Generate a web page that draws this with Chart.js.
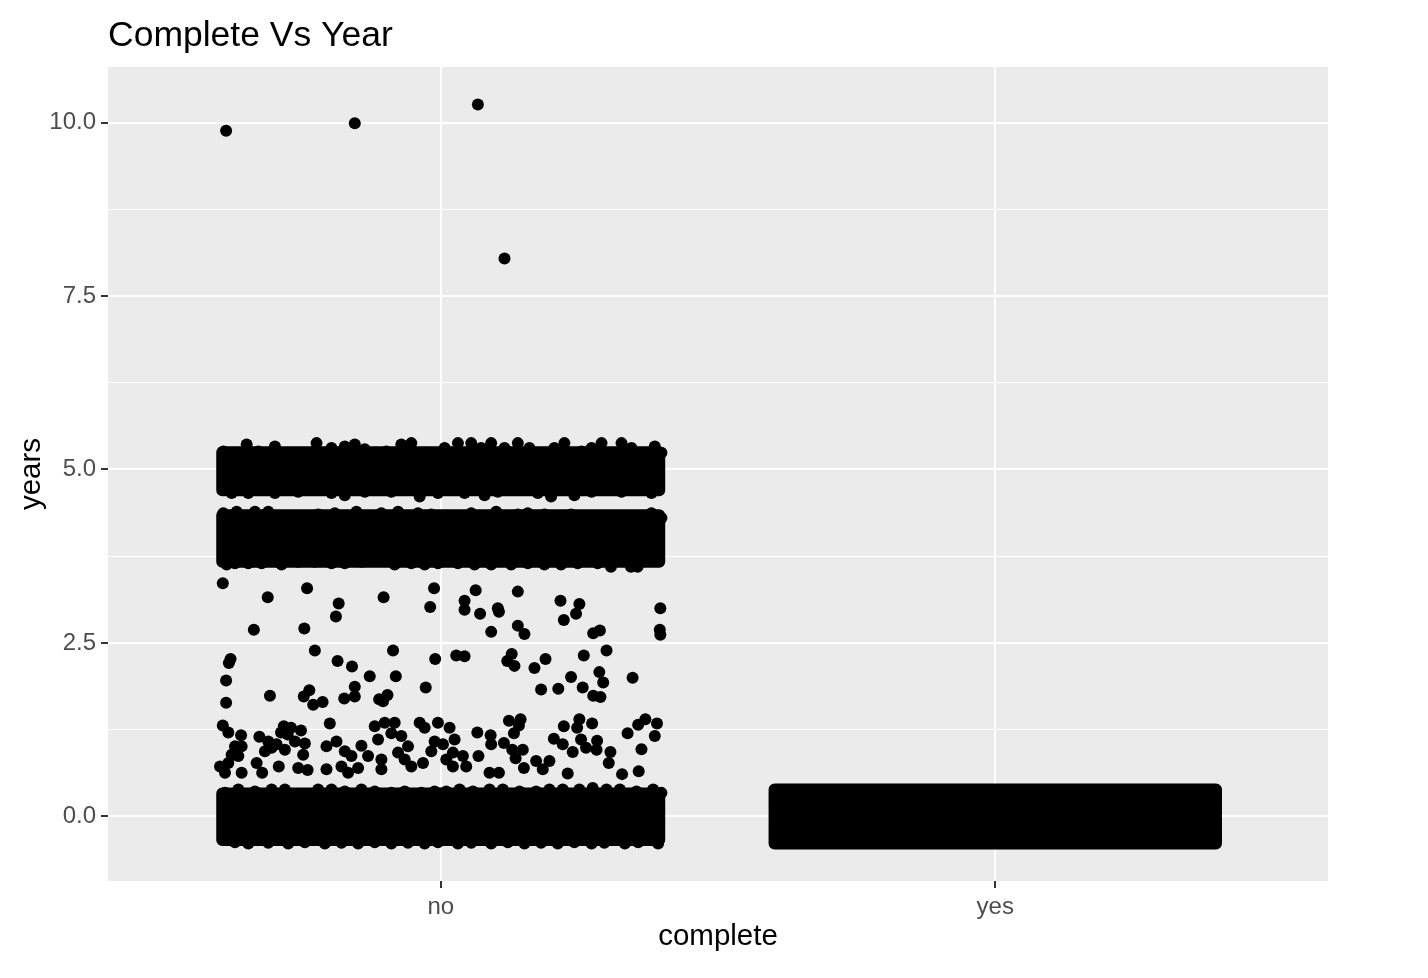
<!DOCTYPE html>
<html>
<head>
<meta charset="utf-8">
<script src="https://cdn.jsdelivr.net/npm/chart.js@4/dist/chart.umd.min.js"></script>
<style>
  html,body{margin:0;padding:0;background:#ffffff;}
  #wrap{width:1428px;height:978px;}
</style>
</head>
<body>
<div id="wrap"><canvas id="c" width="1428" height="978"></canvas></div>
<script>
// ---- data (x = category position with jitter: no = 1, yes = 2; y = years) ----
const categories = ['no', 'yes'];
const yTicks = [0, 1.25, 2.5, 3.75, 5, 6.25, 7.5, 8.75, 10];
const chartTitle = 'Complete Vs Year';

// isolated high values (complete = no)
const noOutliers = [[0.613, 9.88], [0.845, 9.99], [1.067, 10.26], [1.115, 8.04]];

// sparse points between 1.5 and 3.4 years (complete = no)
const noSparse = [
  [0.607,3.36],[0.688,3.16],[0.759,3.29],[0.816,3.07],[0.811,2.88],[0.897,3.16],[0.988,3.29],[0.981,3.02],
  [0.663,2.69],[0.754,2.71],[0.773,2.39],[0.914,2.39],[0.621,2.27],[0.618,2.21],[0.990,2.27],[0.814,2.24],
  [0.840,2.16],[0.613,1.96],[0.872,2.02],[0.919,2.02],[0.973,1.86],[0.692,1.74],[0.763,1.82],[0.753,1.73],
  [0.770,1.61],[0.787,1.65],[0.845,1.87],[0.845,1.73],[0.826,1.70],[0.613,1.64],[0.904,1.75],[0.889,1.69],
  [0.896,1.66],[0.800,1.34],
  [1.063,3.26],[1.043,3.11],[1.043,2.98],[1.071,2.92],[1.103,3.00],[1.105,2.95],[1.139,3.24],[1.216,3.11],
  [1.250,3.06],[1.244,2.92],[1.222,2.83],[1.396,3.00],[1.091,2.66],[1.139,2.75],[1.151,2.63],[1.275,2.64],
  [1.287,2.68],[1.395,2.69],[1.396,2.62],[1.028,2.32],[1.043,2.31],[1.128,2.34],[1.120,2.24],[1.133,2.17],
  [1.189,2.27],[1.169,2.14],[1.299,2.39],[1.258,2.32],[1.235,2.01],[1.286,2.08],[1.293,1.93],[1.346,2.00],
  [1.181,1.83],[1.212,1.84],[1.256,1.86],[1.275,1.74],[1.288,1.72]
];

// cluster around one year (complete = no)
const noNearOne = [
  [0.607,1.31],[0.617,1.21],[0.640,1.17],[0.673,1.15],[0.717,1.30],[0.730,1.28],[0.712,1.21],[0.724,1.18],
  [0.748,1.24],[0.689,1.08],[0.704,1.04],[0.683,0.94],[0.695,0.99],[0.719,0.96],[0.737,1.08],[0.755,1.05],
  [0.629,1.01],[0.641,1.01],[0.623,0.89],[0.635,0.87],[0.617,0.77],[0.602,0.72],[0.641,0.63],[0.611,0.63],
  [0.752,0.89],[0.743,0.70],[0.760,0.67],[0.708,0.72],[0.678,0.63],[0.668,0.77],[0.794,1.01],[0.812,1.08],
  [0.827,0.94],[0.839,0.87],[0.821,0.72],[0.794,0.68],[0.833,0.63],[0.851,0.70],[0.869,0.87],[0.857,1.02],
  [0.881,1.30],[0.899,1.35],[0.917,1.35],[0.887,1.11],[0.911,1.20],[0.929,1.16],[0.941,1.01],[0.923,0.92],
  [0.935,0.82],[0.947,0.72],[0.893,0.82],[0.893,0.68],[0.968,0.77],[0.983,0.94],[0.989,1.08],[0.962,1.35],
  [0.971,1.28],[0.995,1.35],
  [1.123,1.38],[1.144,1.40],[1.141,1.31],[1.132,1.20],[1.066,1.21],[1.090,1.17],[1.091,1.04],[1.114,1.06],
  [1.129,0.96],[1.148,0.96],[1.135,0.84],[1.150,0.70],[1.222,1.30],[1.250,1.40],[1.246,1.28],[1.273,1.34],
  [1.253,1.11],[1.262,0.99],[1.282,1.09],[1.281,0.96],[1.204,1.12],[1.220,1.04],[1.238,0.93],[1.306,0.93],
  [1.303,0.77],[1.172,0.80],[1.196,0.80],[1.184,0.68],[1.229,0.62],[1.088,0.63],[1.105,0.63],[1.016,1.28],
  [1.025,1.11],[1.004,1.04],[1.022,0.92],[1.040,0.87],[1.010,0.82],[1.046,0.72],[1.022,0.72],[1.068,0.87],
  [1.337,1.20],[1.356,1.32],[1.369,1.40],[1.390,1.34],[1.386,1.16],[1.362,0.97],[1.327,0.61],[1.357,0.65]
];

// points along the ragged edges of the overplotted bands (complete = no)
const noFiveTopEdge = [
  [0.608,5.26],[0.629,5.24],[0.650,5.36],[0.671,5.26],[0.701,5.33],[0.689,5.19],[0.713,5.12],[0.743,5.12],
  [0.776,5.38],[0.767,5.24],[0.803,5.31],[0.827,5.33],[0.845,5.36],[0.863,5.29],[0.881,5.24],[0.902,5.26],
  [0.929,5.36],[0.947,5.38],[0.935,5.29],[0.971,5.24],[1.007,5.31],[1.031,5.38],[1.055,5.38],[1.073,5.31],
  [1.091,5.38],[1.115,5.31],[1.139,5.38],[1.160,5.31],[1.181,5.21],[1.205,5.31],[1.223,5.38],[1.254,5.26],
  [1.272,5.31],[1.290,5.38],[1.326,5.38],[1.344,5.31],[1.362,5.19],[1.386,5.33],[1.398,5.24]
];
const noFiveBottomEdge = [
  [0.623,4.66],[0.653,4.66],[0.701,4.66],[0.743,4.68],[0.803,4.66],[0.827,4.63],[0.863,4.68],[0.911,4.68],
  [0.962,4.61],[0.995,4.66],[1.043,4.66],[1.079,4.63],[1.103,4.68],[1.175,4.66],[1.199,4.61],[1.241,4.63],
  [1.272,4.68],[1.326,4.68],[1.380,4.66]
];
const noFourTopEdge = [
  [0.608,4.37],[0.632,4.39],[0.665,4.39],[0.689,4.39],[0.749,4.30],[0.779,4.35],[0.809,4.37],[0.848,4.39],
  [0.893,4.37],[0.923,4.39],[0.959,4.37],[0.983,4.35],[1.055,4.37],[1.100,4.39],[1.139,4.35],[1.157,4.37],
  [1.187,4.35],[1.235,4.35],[1.265,4.32],[1.301,4.32],[1.332,4.30],[1.380,4.37],[1.398,4.30]
];
const noFourBottomEdge = [
  [0.614,3.63],[0.629,3.65],[0.653,3.65],[0.677,3.65],[0.713,3.63],[0.743,3.67],[0.773,3.67],[0.803,3.65],
  [0.827,3.65],[0.857,3.67],[0.875,3.70],[0.917,3.63],[0.947,3.65],[0.971,3.63],[0.995,3.65],[1.031,3.65],
  [1.061,3.63],[1.091,3.63],[1.127,3.63],[1.157,3.65],[1.187,3.63],[1.217,3.63],[1.247,3.65],[1.283,3.65],
  [1.307,3.60],[1.343,3.60],[1.355,3.60],[1.391,3.72]
];
const noZeroTopEdge = [
  [0.611,0.34],[0.635,0.39],[0.665,0.36],[0.695,0.39],[0.719,0.39],[0.749,0.32],[0.779,0.39],[0.803,0.39],
  [0.827,0.36],[0.857,0.39],[0.881,0.36],[0.911,0.34],[0.935,0.36],[0.965,0.34],[0.989,0.36],[1.010,0.36],
  [1.034,0.39],[1.058,0.36],[1.088,0.39],[1.112,0.39],[1.142,0.36],[1.172,0.36],[1.196,0.39],[1.220,0.39],
  [1.250,0.39],[1.274,0.41],[1.299,0.39],[1.323,0.39],[1.353,0.36],[1.383,0.39],[1.398,0.34]
];
const noZeroBottomEdge = [
  [0.629,-0.37],[0.653,-0.39],[0.689,-0.38],[0.725,-0.39],[0.755,-0.37],[0.791,-0.39],[0.821,-0.38],
  [0.851,-0.39],[0.881,-0.37],[0.911,-0.39],[0.941,-0.38],[0.971,-0.39],[0.995,-0.37],[1.031,-0.39],
  [1.055,-0.38],[1.091,-0.39],[1.121,-0.37],[1.151,-0.39],[1.181,-0.38],[1.211,-0.39],[1.241,-0.37],
  [1.272,-0.39],[1.295,-0.38],[1.332,-0.39],[1.356,-0.37],[1.392,-0.39]
];

// extents of the fully overplotted band cores: [xFrom, xTo, yFrom, yTo]
const noBandZero = [0.606, 1.394, -0.34, 0.33];
const noBandFour = [0.606, 1.394, 3.67, 4.34];
const noBandFive = [0.606, 1.394, 4.70, 5.25];
const yesBandZero = [1.602, 2.398, -0.39, 0.39];

// ---- helpers ----
const FONT = "'Liberation Sans', Arial, Helvetica, sans-serif";
const toPts = arr => arr.map(p => ({x: p[0], y: p[1]}));
const bandShape = b => [
  {x: b[0], y: b[2]}, {x: b[1], y: b[2]}, {x: b[1], y: b[3]}, {x: b[0], y: b[3]}, {x: b[0], y: b[2]}
];
const POINT_R = 6;

const pointSet = (data) => ({
  type: 'scatter', data: toPts(data), pointRadius: POINT_R, pointHoverRadius: POINT_R,
  backgroundColor: '#000000', borderWidth: 0, pointBorderWidth: 0
});
const bandSet = (b) => ({
  type: 'line', data: bandShape(b), showLine: true, fill: 'shape', tension: 0,
  backgroundColor: '#000000', borderColor: '#000000', borderWidth: POINT_R * 2,
  borderJoinStyle: 'round', borderCapStyle: 'round', pointRadius: 0, pointHoverRadius: 0
});

const panelBg = {
  id: 'panelBg',
  beforeDraw(chart) {
    const {ctx, chartArea: a} = chart;
    ctx.save();
    ctx.fillStyle = '#EBEBEB';
    ctx.fillRect(a.left, a.top, a.right - a.left, a.bottom - a.top);
    ctx.restore();
  }
};
const titlePlugin = {
  id: 'leftTitle',
  afterDraw(chart) {
    const {ctx, chartArea: a} = chart;
    ctx.save();
    ctx.fillStyle = '#000000';
    ctx.font = "35.5px " + FONT;
    ctx.textAlign = 'left';
    ctx.textBaseline = 'alphabetic';
    ctx.fillText(chartTitle, a.left, 46);
    ctx.restore();
  }
};

new Chart(document.getElementById('c'), {
  type: 'scatter',
  data: {
    datasets: [
      pointSet(noOutliers),
      pointSet(noSparse),
      pointSet(noNearOne),
      pointSet(noFiveTopEdge),
      pointSet(noFiveBottomEdge),
      pointSet(noFourTopEdge),
      pointSet(noFourBottomEdge),
      pointSet(noZeroTopEdge),
      pointSet(noZeroBottomEdge),
      bandSet(noBandZero),
      bandSet(noBandFour),
      bandSet(noBandFive),
      bandSet(yesBandZero)
    ]
  },
  options: {
    responsive: false,
    animation: false,
    events: [],
    layout: {padding: {top: 67, right: 100, left: 0, bottom: 0}},
    plugins: {legend: {display: false}, tooltip: {enabled: false}, title: {display: false}},
    scales: {
      x: {
        type: 'linear', min: 0.4, max: 2.6,
        afterBuildTicks: s => { s.ticks = [{value: 1}, {value: 2}]; },
        afterFit: s => { s.height = 97; },
        ticks: {
          callback: v => categories[Math.round(v) - 1],
          font: {family: FONT, size: 24}, color: '#4D4D4D', padding: 5,
          maxRotation: 0, autoSkip: false
        },
        grid: {color: '#FFFFFF', lineWidth: 2, tickLength: 7, tickColor: '#333333', tickWidth: 2},
        border: {display: false},
        title: {display: true, text: 'complete', color: '#000000',
                font: {family: FONT, size: 29.5}, padding: {top: 0, bottom: 23}}
      },
      y: {
        type: 'linear', min: -0.93, max: 10.8,
        afterBuildTicks: s => { s.ticks = yTicks.map(v => ({value: v})); },
        afterFit: s => { s.width = 108; },
        ticks: {
          callback: v => (Math.abs(v % 2.5) < 1e-9 ? v.toFixed(1) : ''),
          font: {family: FONT, size: 24}, color: '#4D4D4D', padding: 5, autoSkip: false
        },
        grid: {
          color: '#FFFFFF',
          lineWidth: c => (c.tick && Math.abs(c.tick.value % 2.5) < 1e-9 ? 2 : 1),
          tickLength: 7,
          tickColor: c => (c.tick && Math.abs(c.tick.value % 2.5) < 1e-9 ? '#333333' : 'rgba(0,0,0,0)'),
          tickWidth: 2
        },
        border: {display: false},
        title: {display: true, text: 'years', color: '#000000',
                font: {family: FONT, size: 29.5}, padding: {top: 14, bottom: 0}}
      }
    }
  },
  plugins: [panelBg, titlePlugin]
});
</script>
</body>
</html>
